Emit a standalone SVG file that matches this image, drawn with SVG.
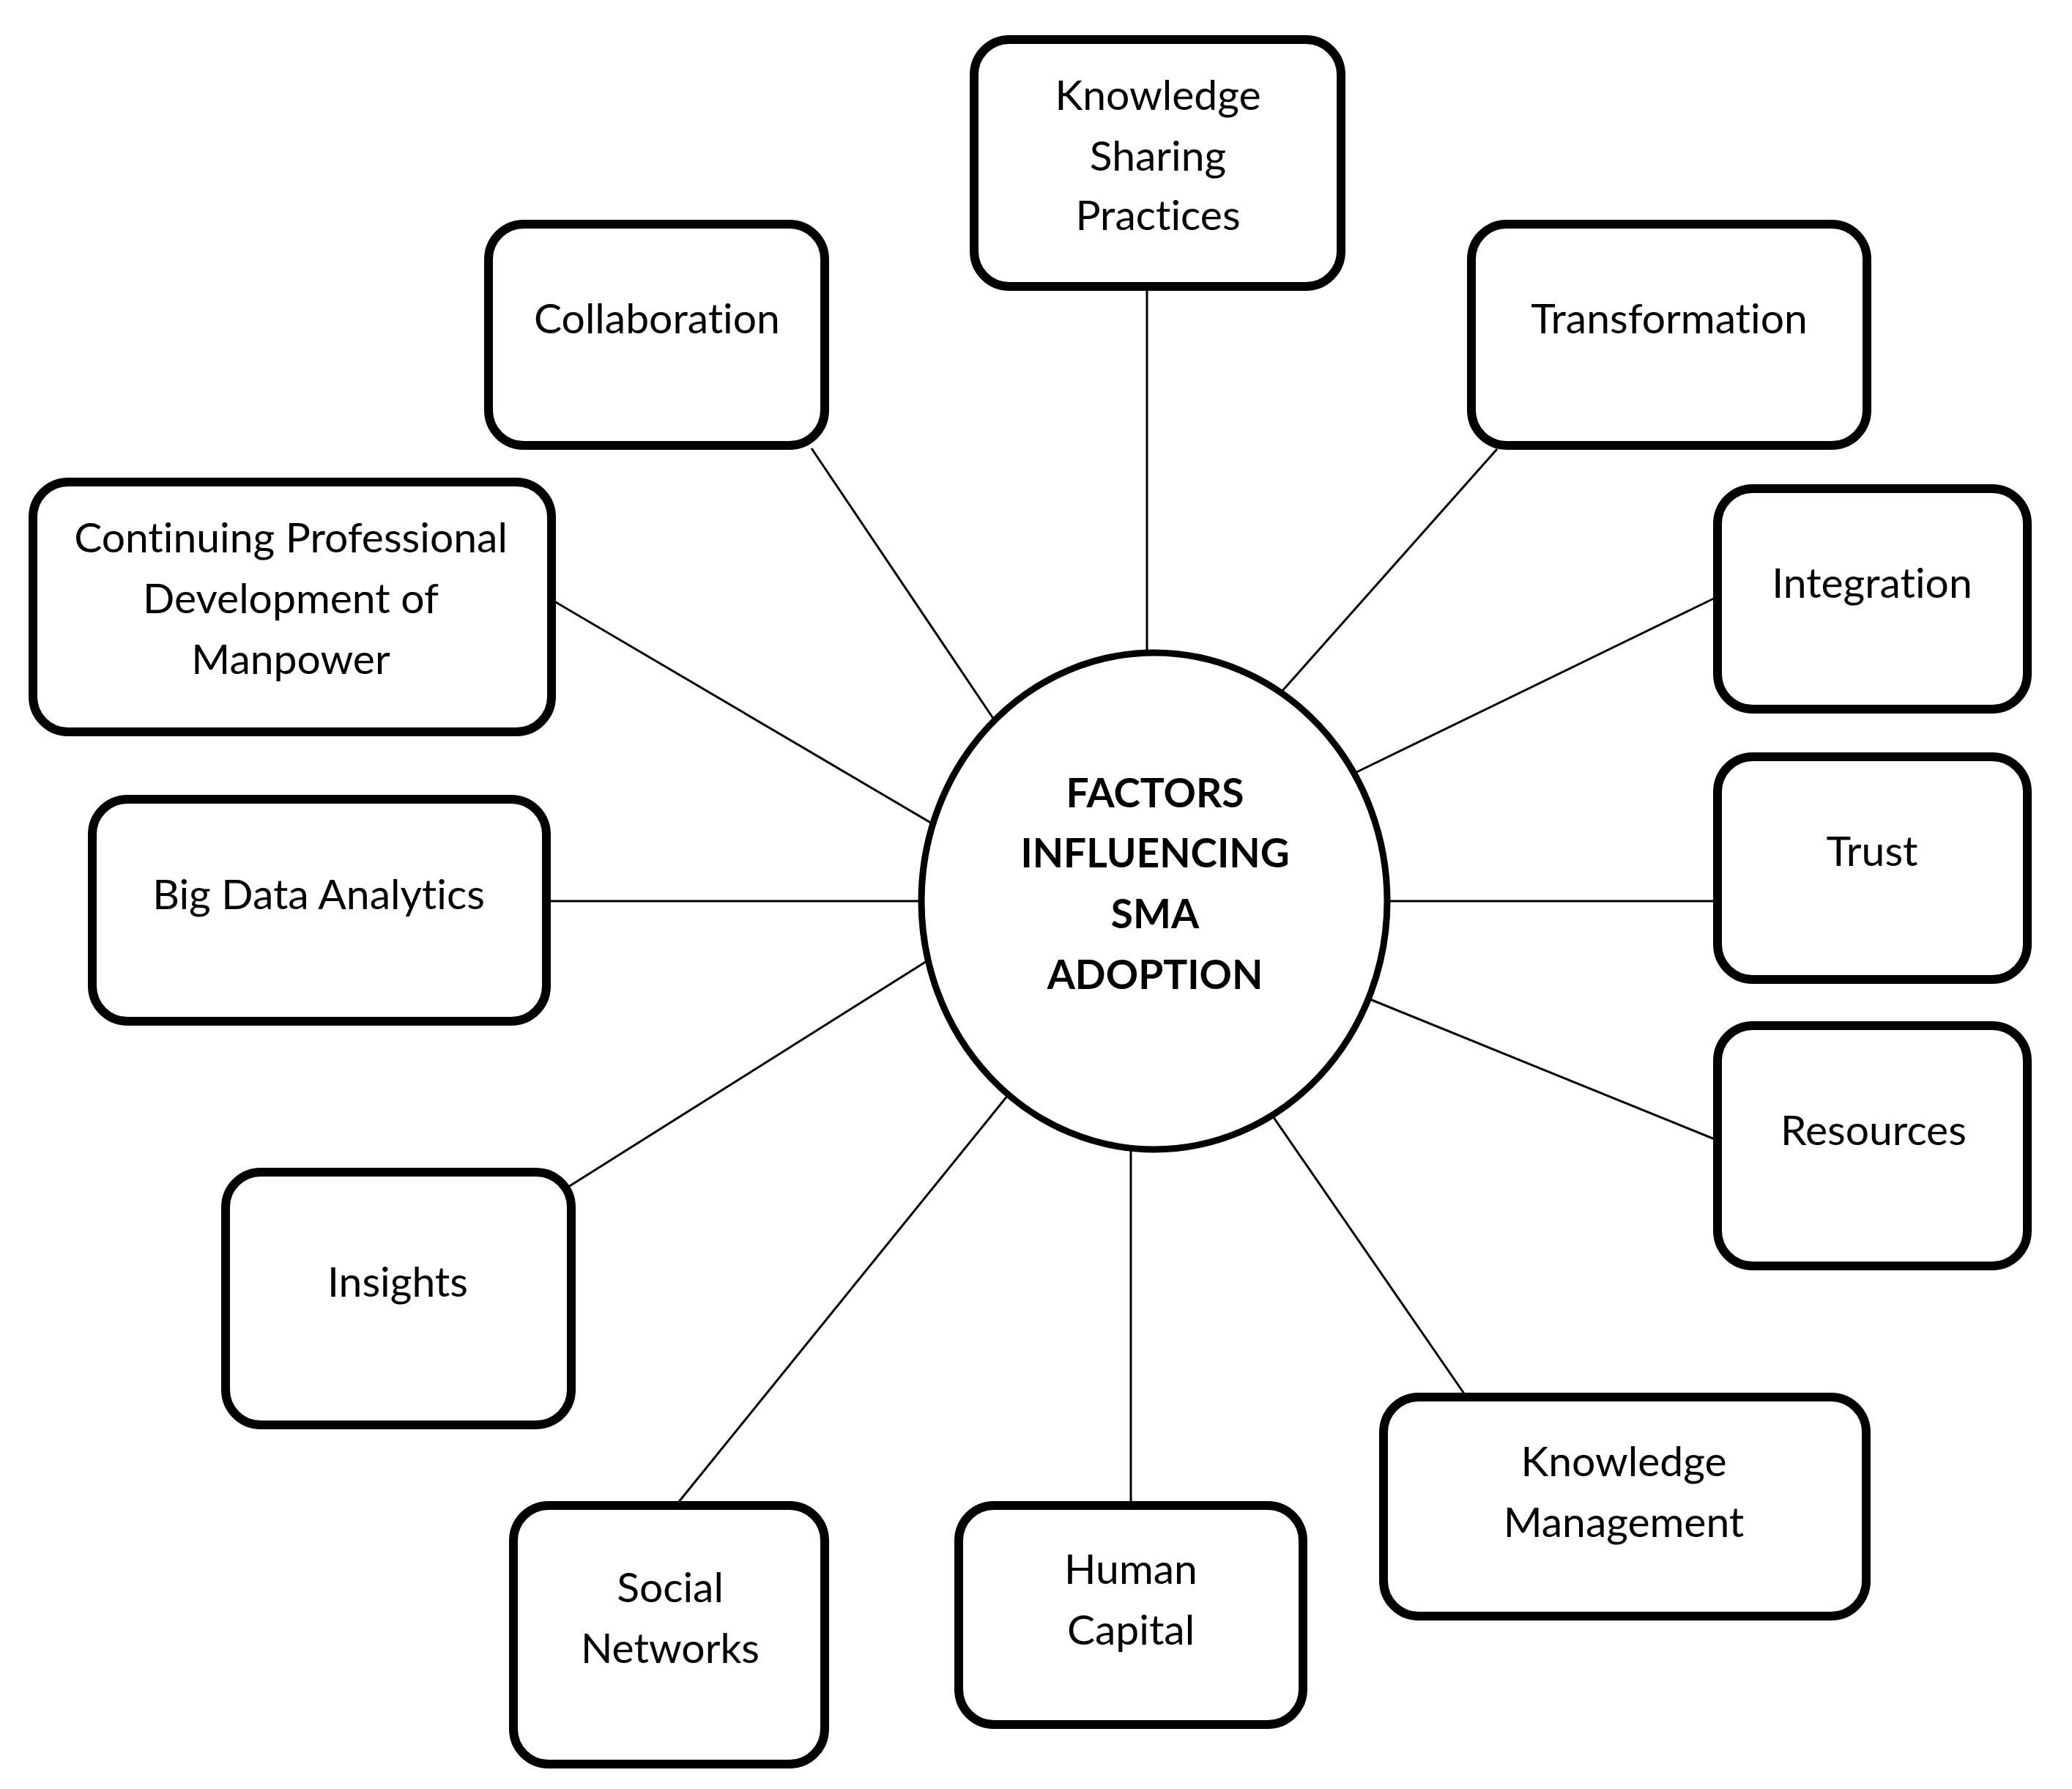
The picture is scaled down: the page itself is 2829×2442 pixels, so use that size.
<svg xmlns="http://www.w3.org/2000/svg" width="2829" height="2442" viewBox="0 0 2829 2442">
<style>
.box{fill:#fff;stroke:#000;stroke-width:12}
.hub{fill:#fff;stroke:#000;stroke-width:9}
.lbl{font-family:Lato,"Open Sans","Liberation Sans",sans-serif;font-size:57px;fill:#000;text-anchor:middle;font-variant-ligatures:none}
.hubt{font-family:Lato,"Open Sans","Liberation Sans",sans-serif;font-size:55px;font-weight:bold;fill:#000;text-anchor:middle;font-variant-ligatures:none}
.con{stroke:#000;stroke-width:3;fill:none}
</style>
<rect width="2829" height="2442" fill="#fff"/>
<g id="connectors">
<line class="con" x1="1566" y1="390" x2="1566" y2="900"/>
<line class="con" x1="1108" y1="612" x2="1357" y2="982"/>
<line class="con" x1="2044" y1="613" x2="1750" y2="944"/>
<line class="con" x1="752" y1="818" x2="1276" y2="1126"/>
<line class="con" x1="2346" y1="814" x2="1850" y2="1055"/>
<line class="con" x1="745" y1="1230" x2="1265" y2="1230"/>
<line class="con" x1="1890" y1="1230" x2="2346" y2="1230"/>
<line class="con" x1="1868" y1="1363" x2="2346" y2="1557"/>
<line class="con" x1="776" y1="1620" x2="1270" y2="1309"/>
<line class="con" x1="1736" y1="1521" x2="2003" y2="1908"/>
<line class="con" x1="922" y1="2056" x2="1381" y2="1489"/>
<line class="con" x1="1544" y1="1560" x2="1544" y2="2056"/>
</g>
<g id="hub">
<ellipse class="hub" cx="1576" cy="1230" rx="318" ry="339"/>
<text class="hubt" x="1577" y="1102">FACTORS</text>
<text class="hubt" x="1577" y="1184">INFLUENCING</text>
<text class="hubt" x="1577" y="1267">SMA</text>
<text class="hubt" x="1577" y="1350">ADOPTION</text>
</g>
<g id="knowledge-sharing">
<rect class="box" x="1330" y="54" width="501" height="337" rx="48"/>
<text class="lbl" x="1581" y="150">Knowledge</text>
<text class="lbl" x="1581" y="233">Sharing</text>
<text class="lbl" x="1581" y="314">Practices</text>
</g>
<g id="collaboration">
<rect class="box" x="667" y="306" width="459" height="302" rx="48"/>
<text class="lbl" x="897" y="455">Collaboration</text>
</g>
<g id="transformation">
<rect class="box" x="2009" y="306" width="540" height="302" rx="48"/>
<text class="lbl" x="2279" y="455">Transformation</text>
</g>
<g id="cpd">
<rect class="box" x="45" y="658" width="708" height="341" rx="48"/>
<text class="lbl" x="397" y="754">Continuing Professional</text>
<text class="lbl" x="397" y="837">Development of</text>
<text class="lbl" x="397" y="920">Manpower</text>
</g>
<g id="integration">
<rect class="box" x="2345" y="667" width="423" height="301" rx="48"/>
<text class="lbl" x="2556" y="816">Integration</text>
</g>
<g id="big-data">
<rect class="box" x="126" y="1091" width="620" height="303" rx="48"/>
<text class="lbl" x="435" y="1241">Big Data Analytics</text>
</g>
<g id="trust">
<rect class="box" x="2345" y="1033" width="423" height="304" rx="48"/>
<text class="lbl" x="2556" y="1182">Trust</text>
</g>
<g id="resources">
<rect class="box" x="2345" y="1400" width="423" height="328" rx="48"/>
<text class="lbl" x="2558" y="1563">Resources</text>
</g>
<g id="insights">
<rect class="box" x="308" y="1600" width="472" height="345" rx="48"/>
<text class="lbl" x="543" y="1770">Insights</text>
</g>
<g id="knowledge-management">
<rect class="box" x="1889" y="1907" width="659" height="299" rx="48"/>
<text class="lbl" x="2217" y="2015">Knowledge</text>
<text class="lbl" x="2217" y="2098">Management</text>
</g>
<g id="social-networks">
<rect class="box" x="701" y="2055" width="425" height="353" rx="48"/>
<text class="lbl" x="915" y="2187">Social</text>
<text class="lbl" x="915" y="2270">Networks</text>
</g>
<g id="human-capital">
<rect class="box" x="1309" y="2055" width="470" height="299" rx="48"/>
<text class="lbl" x="1544" y="2162">Human</text>
<text class="lbl" x="1544" y="2245">Capital</text>
</g>
</svg>
